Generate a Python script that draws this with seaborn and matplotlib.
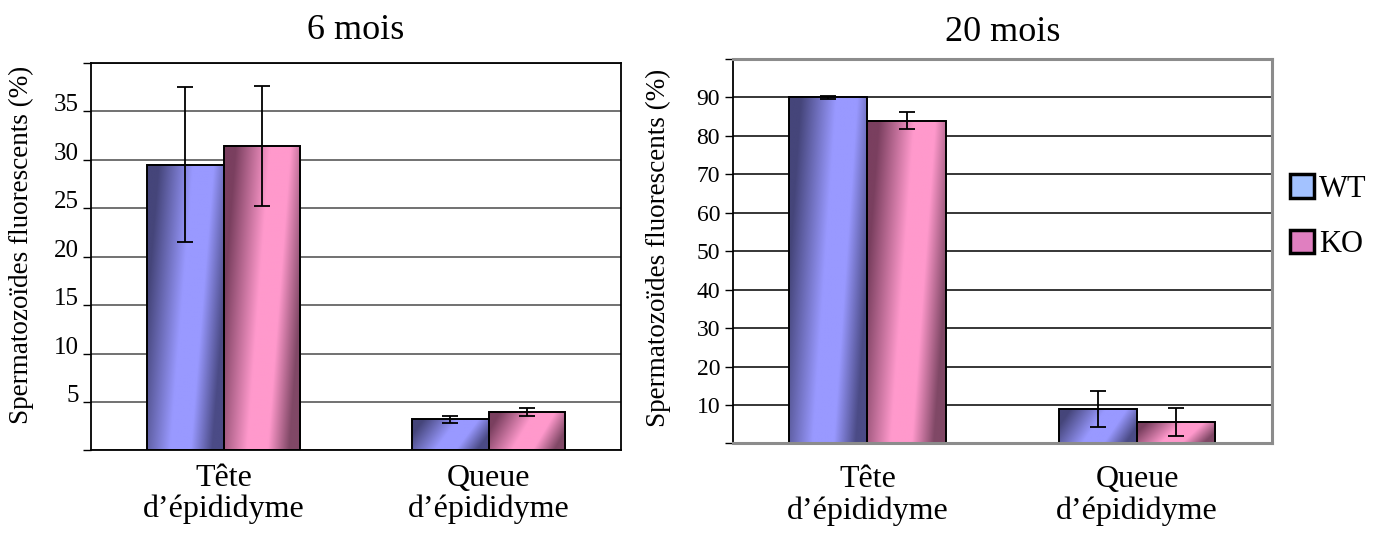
import numpy as np
import pandas as pd
import matplotlib
matplotlib.use("Agg")
import matplotlib.pyplot as plt
import seaborn as sns
from matplotlib.colors import LinearSegmentedColormap
from matplotlib.patches import Patch

groups = ["Tête\nd’épididyme", "Queue\nd’épididyme"]
genotypes = ["WT", "KO"]

# 6 mois
wt_6 = [29.5, 3.2]
ko_6 = [31.4, 4.0]
wt_6_err = [8.0, 0.35]
ko_6_err = [6.2, 0.4]

# 20 mois
wt_20 = [90.0, 9.0]
ko_20 = [84.0, 5.5]
wt_20_err = [0.4, 4.6]
ko_20_err = [2.3, 3.6]

sns.set_style("white")
plt.rcParams["font.family"] = ["Liberation Serif", "DejaVu Serif"]
plt.rcParams["text.color"] = "black"
plt.rcParams["axes.labelcolor"] = "black"
plt.rcParams["xtick.color"] = "black"
plt.rcParams["ytick.color"] = "black"

cmaps = {
    "WT": LinearSegmentedColormap.from_list(
        "wt", [(0, "#45457a"), (0.45, "#9999ff"), (0.72, "#9999ff"), (1, "#4b4b86")]),
    "KO": LinearSegmentedColormap.from_list(
        "ko", [(0, "#7a3f5f"), (0.45, "#ff99cc"), (0.72, "#ff99cc"), (1, "#804866")]),
}


def make_df(wt, ko, wt_err, ko_err):
    return pd.DataFrame({
        "groupe": groups * 2,
        "genotype": ["WT"] * 2 + ["KO"] * 2,
        "valeur": wt + ko,
        "err": wt_err + ko_err,
    })


def draw_panel(ax, df, ymax, step, title, title_pad, xpad, label_xy,
               grid_color, ytick_size, ytick_va):
    sns.barplot(data=df, x="groupe", y="valeur", hue="genotype",
                order=groups, hue_order=genotypes,
                palette=["#9999ff", "#ff99cc"], width=0.58,
                errorbar=None, legend=False, ax=ax,
                edgecolor="black", linewidth=1.4)

    # gradient fill + error bars
    X, Y = np.meshgrid(np.linspace(0, 1, 200), np.linspace(0, 1, 120))
    U = X - 0.3 * (Y - 0.5)
    for p in list(ax.patches):
        cx = p.get_x() + p.get_width() / 2
        h = p.get_height()
        gi = int(round(cx))
        row = df[(df["groupe"] == groups[gi]) & (np.isclose(df["valeur"], h))].iloc[0]
        ax.imshow(U, cmap=cmaps[row["genotype"]], vmin=0, vmax=1, origin="lower",
                  extent=[p.get_x(), p.get_x() + p.get_width(), 0, h],
                  aspect="auto", zorder=0.8, interpolation="bilinear")
        p.set_facecolor("none")
        p.set_zorder(1.0)
        ax.errorbar(cx, h, yerr=row["err"], fmt="none", ecolor="black",
                    elinewidth=1.3, capsize=6, capthick=1.3, zorder=3)

    ax.set_xlim(-0.5, 1.5)
    ax.set_ylim(0, ymax)
    ticks = list(range(0, ymax + 1, step))
    ax.set_yticks(ticks)
    ax.set_yticklabels(["" if t in (0, ymax) else str(t) for t in ticks])
    ax.set_axisbelow(True)
    ax.yaxis.grid(True, color=grid_color, lw=1.1)
    ax.xaxis.grid(False)
    ax.tick_params(axis="y", left=True, length=6, width=1, direction="out",
                   labelsize=ytick_size, pad=3, color="black")
    for lab in ax.get_yticklabels():
        lab.set_va(ytick_va)
    ax.tick_params(axis="x", bottom=False, labelsize=23, pad=xpad)
    for lab in ax.get_xticklabels():
        lab.set_linespacing(1.1)
    ax.set_xlabel("")
    ax.set_ylabel("Spermatozoïdes fluorescents (%)", fontsize=19.5)
    ax.yaxis.set_label_coords(*label_xy)
    ax.set_title(title, fontsize=26, pad=title_pad)


fig = plt.figure(figsize=(13.84, 5.34), dpi=100)
ax1 = fig.add_axes([0.0658, 0.1564, 0.3829, 0.7256])
ax2 = fig.add_axes([0.5293, 0.1695, 0.3898, 0.7200])

draw_panel(ax1, make_df(wt_6, ko_6, wt_6_err, ko_6_err), 40, 5,
           "6 mois", 17, 6, (-0.108, 0.53), "#4a4a4a", 18, "baseline")
draw_panel(ax2, make_df(wt_20, ko_20, wt_20_err, ko_20_err), 100, 10,
           "20 mois", 13, 12, (-0.115, 0.51), "black", 17, "center_baseline")

for s in ax1.spines.values():
    s.set_color("black")
    s.set_linewidth(1.3)
for name, s in ax2.spines.items():
    if name == "left":
        s.set_color("black")
        s.set_linewidth(1.3)
    else:
        s.set_color("#8c8c8c")
        s.set_linewidth(2.2)

handles = [Patch(facecolor="#a3c2ff", edgecolor="black", linewidth=2.5, label="WT"),
           Patch(facecolor="#e07fc0", edgecolor="black", linewidth=2.5, label="KO")]
fig.legend(handles=handles, loc="upper left", bbox_to_anchor=(0.912, 0.725),
           frameon=False, fontsize=22, handlelength=0.8, handleheight=0.8,
           handletextpad=0.15, labelspacing=0.85)

fig.savefig("out.png", dpi=100)
